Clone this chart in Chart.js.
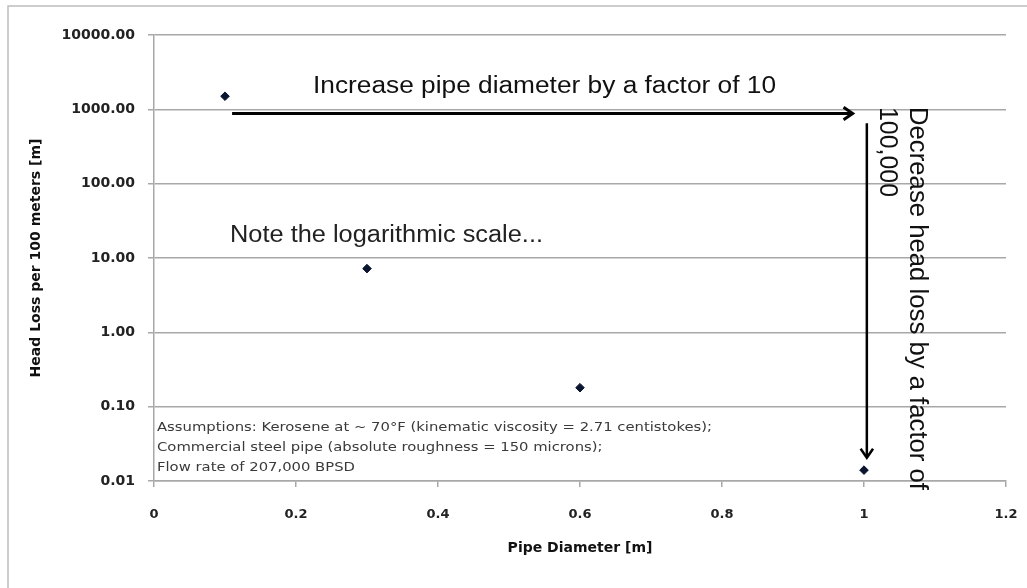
<!DOCTYPE html>
<html>
<head>
<meta charset="utf-8">
<script src="https://cdn.jsdelivr.net/npm/chart.js@4.4.0/dist/chart.umd.min.js"></script>
<style>
  html, body { margin: 0; padding: 0; background: #fff; }
  #wrap { position: relative; width: 1027px; height: 588px; }
</style>
</head>
<body>
<div id="wrap"><canvas id="grafico" width="1027" height="588"></canvas></div>
<script>
// dados
const diametros = [0.1, 0.3, 0.6, 1.0];
const perdaCarga = [1500, 7.2, 0.18, 0.014];
const yTicks = [0.01, 0.1, 1, 10, 100, 1000, 10000];
const yTickLabels = ['0.01', '0.10', '1.00', '10.00', '100.00', '1000.00', '10000.00'];
const xTicks = [0, 0.2, 0.4, 0.6, 0.8, 1, 1.2];
const xTickLabels = ['0', '0.2', '0.4', '0.6', '0.8', '1', '1.2'];
const notaPremissas = [
    'Assumptions: Kerosene at ~ 70°F (kinematic viscosity = 2.71 centistokes);',
    'Commercial steel pipe (absolute roughness = 150 microns);',
    'Flow rate of 207,000 BPSD'
];

const cinza = '#a8a8a8';
const fonteEixo = { family: 'DejaVu Sans', weight: 'bold' };

// texto esticado ate a largura desejada
function texto(ctx, str, x, y, fonte, largura, rot) {
    ctx.save();
    ctx.translate(x, y);
    if (rot) ctx.rotate(rot);
    ctx.font = fonte;
    const w = ctx.measureText(str).width;
    ctx.scale(largura / w, 1);
    ctx.fillText(str, 0, 0);
    ctx.restore();
}

function seta(ctx, x1, y1, x2, y2, lw) {
    const ang = Math.atan2(y2 - y1, x2 - x1);
    const L = 11, abre = 0.6;
    ctx.save();
    ctx.strokeStyle = '#000';
    ctx.lineWidth = lw;
    ctx.beginPath();
    ctx.moveTo(x1, y1);
    ctx.lineTo(x2 - Math.cos(ang) * 1.5, y2 - Math.sin(ang) * 1.5);
    ctx.stroke();
    ctx.beginPath();
    ctx.moveTo(x2 - L * Math.cos(ang - abre), y2 - L * Math.sin(ang - abre));
    ctx.lineTo(x2, y2);
    ctx.lineTo(x2 - L * Math.cos(ang + abre), y2 - L * Math.sin(ang + abre));
    ctx.stroke();
    ctx.restore();
}

const moldura = {
    id: 'moldura',
    beforeDraw(chart) {
        const ctx = chart.ctx;
        ctx.save();
        ctx.fillStyle = '#fff';
        ctx.fillRect(0, 0, chart.width, chart.height);
        ctx.strokeStyle = '#bdbdbd';
        ctx.lineWidth = 1.5;
        ctx.strokeRect(8, 6, 1040, 600);
        ctx.restore();
    }
};

const anotacoes = {
    id: 'anotacoes',
    afterDraw(chart) {
        const ctx = chart.ctx;
        const sx = chart.scales.x, sy = chart.scales.y;

        // setas
        seta(ctx, sx.getPixelForValue(0.11), sy.getPixelForValue(880),
                  sx.getPixelForValue(0.984), sy.getPixelForValue(880), 3);
        seta(ctx, sx.getPixelForValue(1.004), sy.getPixelForValue(650),
                  sx.getPixelForValue(1.004), sy.getPixelForValue(0.0205), 2.5);

        ctx.save();
        ctx.fillStyle = '#111';
        ctx.textBaseline = 'alphabetic';
        ctx.textAlign = 'left';
        texto(ctx, 'Increase pipe diameter by a factor of 10', 313, 93, '23px "Liberation Sans"', 463);
        ctx.fillStyle = '#222';
        texto(ctx, 'Note the logarithmic scale...', 230, 242, '23px "Liberation Sans"', 313);
        ctx.fillStyle = '#111';
        texto(ctx, 'Decrease head loss by a factor of', 910, 107, '25px "Liberation Sans"', 383, Math.PI / 2);
        texto(ctx, '100,000', 880, 107, '25px "Liberation Sans"', 90, Math.PI / 2);

        // caixa de premissas: mesma escala horizontal nas tres linhas
        ctx.fillStyle = '#3a3a3a';
        ctx.font = '13px "DejaVu Sans"';
        const esc = 555 / ctx.measureText(notaPremissas[0]).width;
        notaPremissas.forEach((linha, i) => {
            const w = ctx.measureText(linha).width * esc;
            texto(ctx, linha, 157, 431 + i * 20, '13px "DejaVu Sans"', w);
        });
        ctx.restore();
    }
};

const ctx = document.getElementById('grafico').getContext('2d');
new Chart(ctx, {
    type: 'scatter',
    data: {
        datasets: [{
            label: 'Head Loss',
            data: diametros.map((d, i) => ({ x: d, y: perdaCarga[i] })),
            showLine: false,
            pointStyle: 'rectRot',
            pointRadius: 4.3,
            backgroundColor: '#0a1530',
            borderColor: '#0a1530',
            borderWidth: 1
        }]
    },
    options: {
        responsive: false,
        animation: false,
        layout: { padding: { top: 35, right: 21, left: 0, bottom: 0 } },
        plugins: {
            legend: { display: false },
            tooltip: { enabled: false }
        },
        scales: {
            x: {
                type: 'linear',
                min: 0,
                max: 1.2,
                afterBuildTicks: s => { s.ticks = xTicks.map(v => ({ value: v })); },
                afterFit: s => {
                    s.height = 107;
                    s.paddingLeft = 0;
                    s.paddingRight = 0;
                },
                ticks: {
                    callback: (v, i) => xTickLabels[i],
                    font: { ...fonteEixo, size: 13 },
                    color: '#222',
                    padding: 20,
                    maxRotation: 0,
                    autoSkip: false
                },
                grid: { drawOnChartArea: false, drawTicks: true, tickLength: 6, color: cinza, lineWidth: 1.5 },
                border: { color: cinza, width: 1.5 },
                title: {
                    display: true,
                    text: 'Pipe Diameter [m]',
                    font: { ...fonteEixo, size: 14 },
                    color: '#111',
                    padding: { top: 0, bottom: 31 }
                }
            },
            y: {
                type: 'logarithmic',
                min: 0.01,
                max: 10000,
                afterBuildTicks: s => { s.ticks = yTicks.map(v => ({ value: v, major: true })); },
                afterFit: s => { s.width = 154; },
                ticks: {
                    callback: (v, i) => yTickLabels[i],
                    font: { ...fonteEixo, size: 14 },
                    color: '#222',
                    padding: 13,
                    autoSkip: false
                },
                grid: { color: cinza, lineWidth: 1.5, tickLength: 6 },
                border: { color: cinza, width: 1.5 },
                title: {
                    display: true,
                    text: 'Head Loss per 100 meters [m]',
                    font: { ...fonteEixo, size: 14 },
                    color: '#111',
                    padding: { top: 28, bottom: 0 }
                }
            }
        }
    },
    plugins: [moldura, anotacoes]
});
</script>
</body>
</html>
